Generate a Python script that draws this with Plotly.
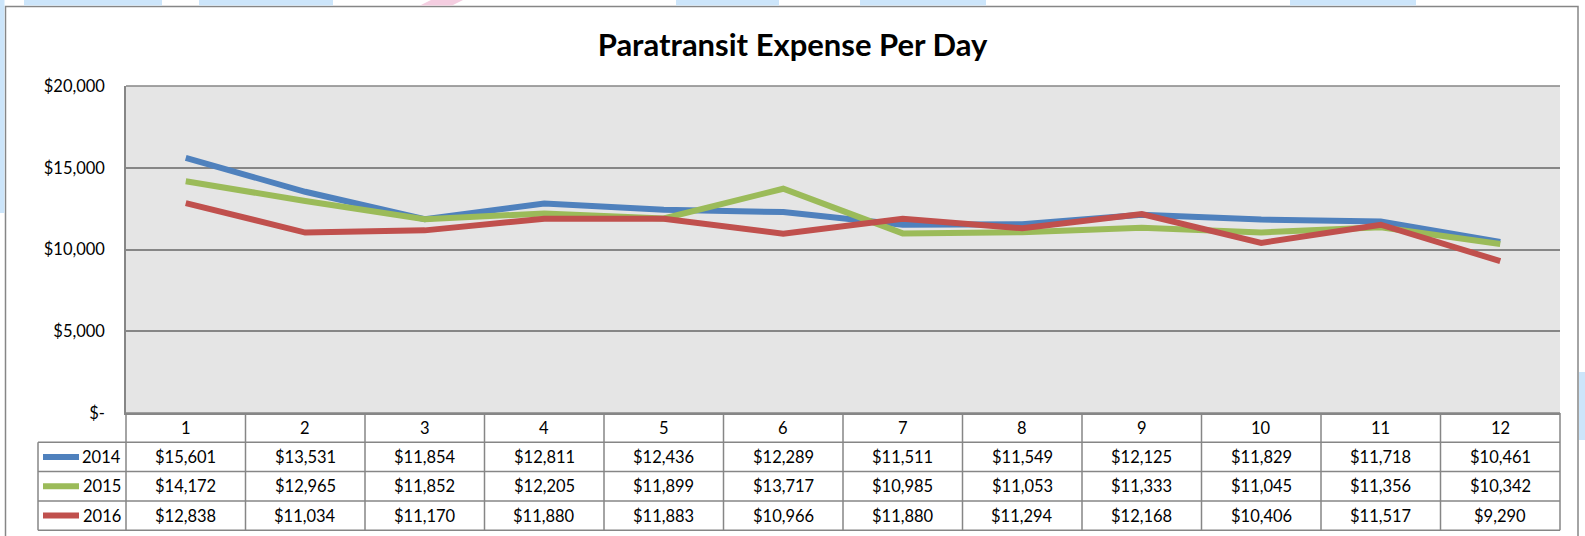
import plotly.graph_objects as go

# ---------------- data ----------------
months = [1, 2, 3, 4, 5, 6, 7, 8, 9, 10, 11, 12]
years = ["2014", "2015", "2016"]
exp_2014 = [15601, 13531, 11854, 12811, 12436, 12289, 11511, 11549, 12125, 11829, 11718, 10461]
exp_2015 = [14172, 12965, 11852, 12205, 11899, 13717, 10985, 11053, 11333, 11045, 11356, 10342]
exp_2016 = [12838, 11034, 11170, 11880, 11883, 10966, 11880, 11294, 12168, 10406, 11517, 9290]
series_colors = ["#4F81BD", "#9BBB59", "#C0504D"]
y_tick_vals = [0, 5000, 10000, 15000, 20000]
y_tick_text = ["$-", "$5,000", "$10,000", "$15,000", "$20,000"]
title_text = "Paratransit Expense Per Day"

series = [exp_2014, exp_2015, exp_2016]

# ---------------- geometry (pixels) ----------------
W, H = 1585, 536
L, R, T, B = 126, 25, 86, 123
plot_w = W - L - R
plot_h = H - T - B
row_px = 29.3
FONT = "Lato, 'Open Sans', sans-serif"
GRID = "#868686"
TXT = 16.5


def py(px_y):
    """pixel y (from top) -> paper y"""
    return (H - B - px_y) / plot_h


def px(px_x):
    return (px_x - L) / plot_w


fig = go.Figure()
for name, vals, col in zip(years, series, series_colors):
    fig.add_trace(go.Scatter(
        x=months, y=vals, name=name, mode="lines",
        line=dict(color=col, width=6),
        hoverinfo="x+y+name",
    ))

shapes = []
annotations = []

# outer chart border
shapes.append(dict(type="rect", xref="paper", yref="paper",
                   x0=px(5.5), x1=px(1578), y0=py(545), y1=py(6.5),
                   line=dict(color=GRID, width=1.5), fillcolor="rgba(0,0,0,0)", layer="below"))

# decorative light background pieces outside the border
deco_blue = "#CCE5FA"
for x0, x1 in [(24, 162), (199, 333), (676, 779), (860, 986), (1290, 1416)]:
    shapes.append(dict(type="rect", xref="paper", yref="paper",
                       x0=px(x0), x1=px(x1), y0=py(5.5), y1=py(0),
                       line=dict(width=0), fillcolor=deco_blue, layer="below"))
shapes.append(dict(type="path", xref="paper", yref="paper",
                   path=f"M {px(420)} {py(5.5)} L {px(452)} {py(5.5)} L {px(463)} {py(0)} L {px(431)} {py(0)} Z",
                   line=dict(width=0), fillcolor="#F4CDE0", layer="below"))
shapes.append(dict(type="rect", xref="paper", yref="paper",
                   x0=px(0), x1=px(4.5), y0=py(213), y1=py(0),
                   line=dict(width=0), fillcolor=deco_blue, layer="below"))
shapes.append(dict(type="rect", xref="paper", yref="paper",
                   x0=px(1579), x1=px(1585), y0=py(440), y1=py(372),
                   line=dict(width=0), fillcolor=deco_blue, layer="below"))

# top border of plot area
shapes.append(dict(type="line", xref="paper", yref="paper", x0=0, x1=1, y0=1, y1=1,
                   line=dict(color=GRID, width=1.5)))

# data table grid
n = len(months)
row_tops = [H - B + i * row_px for i in range(5)]  # header top, row1 top, ..., bottom
legend_left = px(38)
table_line = dict(color=GRID, width=1.5)
shapes.append(dict(type="line", xref="paper", yref="paper", x0=0, x1=1,
                   y0=py(row_tops[0]), y1=py(row_tops[0]), line=table_line))
for yy in row_tops[1:]:
    shapes.append(dict(type="line", xref="paper", yref="paper", x0=legend_left, x1=1,
                       y0=py(yy), y1=py(yy), line=table_line))
for k in range(n + 1):
    shapes.append(dict(type="line", xref="paper", yref="paper", x0=k / n, x1=k / n,
                       y0=py(row_tops[0]), y1=py(row_tops[4]), line=table_line))
shapes.append(dict(type="line", xref="paper", yref="paper", x0=legend_left, x1=legend_left,
                   y0=py(row_tops[1]), y1=py(row_tops[4]), line=table_line))

cell_font = dict(family=FONT, size=TXT, color="#000")

# header row (month numbers)
hdr_y = py((row_tops[0] + row_tops[1]) / 2)
for m in months:
    annotations.append(dict(x=m, y=hdr_y, xref="x", yref="paper", text=str(m),
                            xanchor="center", yanchor="middle",
                            showarrow=False, font=cell_font))

# value rows + legend keys
for i, (name, vals, col) in enumerate(zip(years, series, series_colors)):
    cy = (row_tops[i + 1] + row_tops[i + 2]) / 2
    yy = py(cy)
    for m, v in zip(months, vals):
        annotations.append(dict(x=m, y=yy, xref="x", yref="paper", text=f"${v:,}",
                                xanchor="center", yanchor="middle",
                                showarrow=False, font=cell_font))
    shapes.append(dict(type="line", xref="paper", yref="paper", x0=px(43), x1=px(79),
                       y0=yy, y1=yy, line=dict(color=col, width=6)))
    annotations.append(dict(x=px(123), y=yy, xref="paper", yref="paper", text=name,
                            xanchor="right", yanchor="middle", showarrow=False,
                            font=cell_font))

fig.update_layout(
    width=W, height=H,
    margin=dict(l=L, r=R, t=T, b=B, pad=0),
    paper_bgcolor="white",
    plot_bgcolor="#E5E5E5",
    showlegend=False,
    title=dict(text=f"<b>{title_text}</b>", x=0.5, xref="container", xanchor="center",
               y=1 - 45 / H, yref="container", yanchor="middle",
               font=dict(family=FONT, size=31, color="#000")),
    xaxis=dict(range=[0.5, 12.5], showticklabels=False, showgrid=False, zeroline=False,
               showline=True, linecolor=GRID, linewidth=1.5, mirror=False, ticks=""),
    yaxis=dict(range=[0, 20000], tickvals=y_tick_vals, ticktext=y_tick_text,
               showgrid=True, gridcolor=GRID, gridwidth=1.5, zeroline=False,
               showline=True, linecolor=GRID, linewidth=1.5,
               ticks="outside", ticklen=16, tickcolor="rgba(0,0,0,0)",
               tickfont=dict(family=FONT, size=TXT, color="#000")),
    shapes=shapes,
    annotations=annotations,
)

fig.write_html("out.html",
               config={"displayModeBar": False},
               post_script="document.body.style.margin='0';document.body.style.overflow='hidden';")
